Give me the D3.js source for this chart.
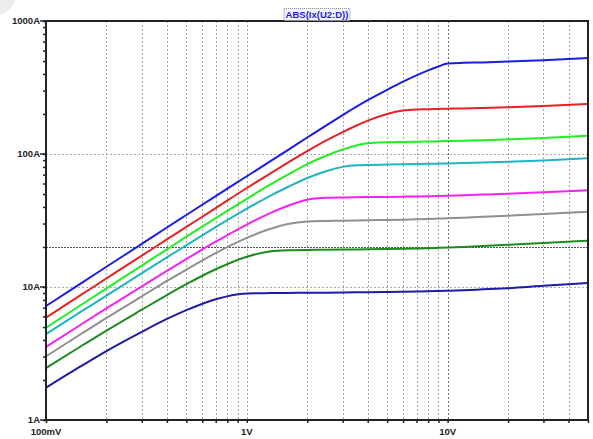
<!DOCTYPE html>
<html lang="en">
<head>
  <meta charset="UTF-8">
  <title>ABS(Ix(U2:D))</title>
  <style>
    body {
      margin: 0;
      padding: 0;
      background-color: #ffffff;
    }
    svg text {
      font-family: "Liberation Sans", Arial, sans-serif;
      font-weight: bold;
    }
  </style>
  <script src="https://d3js.org/d3.v7.min.js"></script>
</head>
<body>
  <div id="chart"></div>

  <script>
    // Sweep voltage (V) shared by all traces
    const voltages = [0.1, 0.15, 0.2, 0.3, 0.4, 0.5, 0.7, 1, 1.3, 1.6, 2, 2.5, 3, 3.5, 4, 5, 6, 7, 8, 9, 10, 12, 15, 20, 30, 50];

    // Drain current (A) of each trace, top to bottom
    const traceBlue    = [7.2, 10.7, 14.2, 21.1, 28, 34.8, 48.3, 68, 87.5, 107, 133, 165, 196, 226, 254, 304, 350, 390, 425, 455, 480, 485, 488, 495, 507, 527];
    const traceRed     = [5.88, 8.75, 11.6, 17.2, 22.8, 28.3, 39.2, 55.5, 71, 86, 105, 127, 146, 163, 178, 200, 212, 216, 217, 218, 219, 220, 222, 225, 230, 238];
    const traceGreen   = [4.94, 7.35, 9.75, 14.5, 19.2, 23.9, 33, 46, 58.5, 70, 84, 97.5, 108, 116, 120.5, 122.5, 123, 123.5, 124, 124.5, 125, 126, 127, 129, 132, 137];
    const traceCyan    = [4.43, 6.55, 8.6, 12.7, 16.7, 20.6, 28.2, 38.8, 48.3, 56.5, 66, 74.5, 80, 82.3, 82.8, 83.2, 83.6, 84, 84.3, 84.6, 85, 85.5, 86.3, 87.5, 89.5, 92.8];
    const traceMagenta = [3.54, 5.25, 6.9, 10.1, 13.2, 16.2, 21.9, 29.5, 35.8, 40.8, 45.3, 46.8, 47.1, 47.3, 47.4, 47.6, 47.8, 47.9, 48.1, 48.3, 48.5, 48.9, 49.5, 50.3, 51.6, 53.3];
    const traceGray    = [3.01, 4.45, 5.85, 8.5, 11.1, 13.5, 18, 23.4, 27.3, 29.8, 31.1, 31.4, 31.5, 31.6, 31.7, 31.9, 32.1, 32.3, 32.5, 32.7, 32.9, 33.2, 33.7, 34.4, 35.4, 36.8];
    const traceDkGreen = [2.46, 3.6, 4.7, 6.75, 8.7, 10.5, 13.6, 16.9, 18.5, 18.9, 19, 19.05, 19.1, 19.15, 19.2, 19.3, 19.4, 19.5, 19.6, 19.7, 19.8, 20, 20.3, 20.8, 21.4, 22.3];
    const traceNavy    = [1.75, 2.55, 3.3, 4.6, 5.75, 6.7, 8.1, 8.95, 9.0, 9.02, 9.05, 9.07, 9.1, 9.12, 9.14, 9.18, 9.22, 9.26, 9.3, 9.33, 9.37, 9.45, 9.6, 9.8, 10.2, 10.7];

    const traces = [traceBlue, traceRed, traceGreen, traceCyan, traceMagenta, traceGray, traceDkGreen, traceNavy];
    const traceColors = ["#1c1ce6", "#e62222", "#22ee22", "#1fb4c4", "#f522f5", "#8f8f8f", "#1f8a1f", "#1c1ca6"];

    // Axis ticks
    const xMajorTicks = [0.1, 1, 10];
    const xTickLabels = ["100mV", "1V", "10V"];
    const yMajorTicks = [1, 10, 100, 1000];
    const yTickLabels = ["1A", "10A", "100A", "1000A"];

    const width = 593;
    const height = 439;
    const margin = {top: 21, right: 5, bottom: 19, left: 46};

    const svg = d3.select("#chart")
      .append("svg")
      .attr("width", width)
      .attr("height", height);

    // faint corner shadow from the screenshot
    svg.append("circle")
      .attr("cx", -6)
      .attr("cy", -6)
      .attr("r", 22)
      .attr("fill", "#ededed");

    const x = d3.scaleLog()
      .domain([0.1, 50])
      .range([margin.left, width - margin.right]);

    const y = d3.scaleLog()
      .domain([1, 1000])
      .range([height - margin.bottom, margin.top]);

    const x0 = x.range()[0], x1 = x.range()[1];
    const y0 = y.range()[0], y1 = y.range()[1];

    // vertical grid (all decade subdivisions)
    svg.append("g")
      .selectAll("line")
      .data(x.ticks().filter(d => d > 0.1 && d < 50))
      .enter()
      .append("line")
      .attr("x1", d => Math.round(x(d)) + 0.5)
      .attr("x2", d => Math.round(x(d)) + 0.5)
      .attr("y1", y1)
      .attr("y2", y0)
      .attr("stroke", d => d === 10 ? "#707070" : "#a8a8a8")
      .attr("stroke-width", 1)
      .attr("stroke-dasharray", "2,2");

    // horizontal grid at decades
    svg.append("g")
      .selectAll("line")
      .data([10, 100])
      .enter()
      .append("line")
      .attr("x1", x0)
      .attr("x2", x1)
      .attr("y1", d => Math.round(y(d)) + 0.5)
      .attr("y2", d => Math.round(y(d)) + 0.5)
      .attr("stroke", "#a8a8a8")
      .attr("stroke-dasharray", "2,2");

    // darker reference line at 20A
    svg.append("line")
      .attr("x1", x0)
      .attr("x2", x1)
      .attr("y1", Math.round(y(20)) + 0.5)
      .attr("y2", Math.round(y(20)) + 0.5)
      .attr("stroke", "#505050")
      .attr("stroke-dasharray", "2,1");

    // traces
    const line = d3.line()
      .x((d, i) => x(voltages[i]))
      .y(d => y(d))
      .curve(d3.curveMonotoneX);

    svg.append("g")
      .selectAll("path")
      .data(traces)
      .enter()
      .append("path")
      .attr("d", line)
      .attr("fill", "none")
      .attr("stroke", (d, i) => traceColors[i])
      .attr("stroke-width", 2);

    // frame
    svg.append("rect")
      .attr("x", x0)
      .attr("y", y1)
      .attr("width", x1 - x0)
      .attr("height", y0 - y1)
      .attr("fill", "none")
      .attr("stroke", "#222")
      .attr("stroke-width", 2);

    // y axis ticks
    const yAxis = d3.axisLeft(y)
      .tickValues(y.ticks())
      .tickSize(3)
      .tickFormat("");
    svg.append("g")
      .attr("transform", `translate(${x0},0)`)
      .call(yAxis)
      .call(g => g.select(".domain").remove())
      .call(g => g.selectAll("line").attr("stroke", "#222").attr("stroke-width", 1.5));

    svg.append("g")
      .selectAll("line")
      .data(yMajorTicks)
      .enter()
      .append("line")
      .attr("x1", x0 - 6)
      .attr("x2", x0)
      .attr("y1", d => y(d))
      .attr("y2", d => y(d))
      .attr("stroke", "#222")
      .attr("stroke-width", 1.5);

    svg.append("g")
      .selectAll("text")
      .data(yMajorTicks)
      .enter()
      .append("text")
      .attr("x", x0 - 6)
      .attr("y", d => y(d))
      .attr("dy", "0.35em")
      .attr("text-anchor", "end")
      .attr("font-size", "9.5px")
      .attr("fill", "#222")
      .text((d, i) => yTickLabels[i]);

    // x axis ticks
    const xAxis = d3.axisBottom(x)
      .tickValues(x.ticks())
      .tickSize(3)
      .tickFormat("");
    svg.append("g")
      .attr("transform", `translate(0,${y0})`)
      .call(xAxis)
      .call(g => g.select(".domain").remove())
      .call(g => g.selectAll("line").attr("stroke", "#222").attr("stroke-width", 1.5));

    svg.append("g")
      .selectAll("text")
      .data(xMajorTicks)
      .enter()
      .append("text")
      .attr("x", d => x(d))
      .attr("y", y0 + 15)
      .attr("text-anchor", "middle")
      .attr("font-size", "9.5px")
      .attr("fill", "#222")
      .text((d, i) => xTickLabels[i]);

    // title with dotted box
    const titleGroup = svg.append("g");
    const titleBox = titleGroup.append("rect");
    const title = titleGroup.append("text")
      .attr("x", (x0 + x1) / 2)
      .attr("y", 18)
      .attr("text-anchor", "middle")
      .attr("font-size", "9.5px")
      .attr("fill", "#1c1ce6")
      .text("ABS(Ix(U2:D))");

    const tb = title.node().getBBox();
    titleBox
      .attr("x", tb.x - 1.5)
      .attr("y", tb.y - 0.5)
      .attr("width", tb.width + 3)
      .attr("height", tb.height + 1)
      .attr("fill", "#f2f4ff")
      .attr("stroke", "#888")
      .attr("stroke-dasharray", "1,1");
  </script>
</body>
</html>
